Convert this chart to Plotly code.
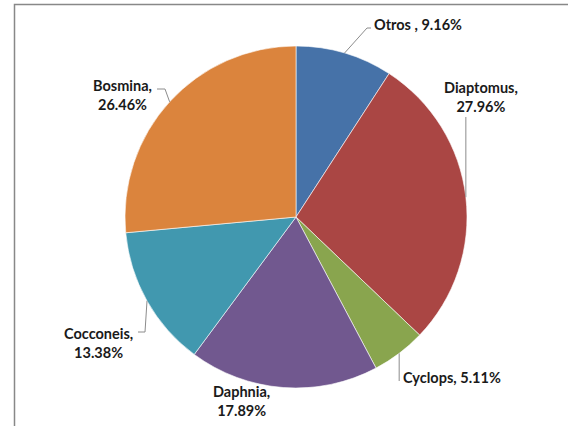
import math
import plotly.graph_objects as go

# Share of each taxon (percent), in clockwise order from 12 o'clock
taxa = ["Otros", "Diaptomus", "Cyclops", "Daphnia", "Cocconeis", "Bosmina"]
shares = [9.16, 27.96, 5.11, 17.89, 13.38, 26.46]
labels_text = ["Otros , 9.16%", "Diaptomus,<br>27.96%", "Cyclops, 5.11%",
               "Daphnia,<br>17.89%", "Cocconeis,<br>13.38%", "Bosmina,<br>26.46%"]
colors = ["#4672A8", "#AA4644", "#89A54E", "#71588F", "#4198AF", "#DB843D"]

W, H = 568, 426
CX, CY, R = 296, 217, 171  # pie centre and radius in pixels


def px(x):
    return x / W


def py(y):
    return 1 - y / H


fig = go.Figure(go.Pie(
    labels=taxa,
    values=shares,
    sort=False,
    direction="clockwise",
    rotation=0,
    marker=dict(colors=colors, line=dict(color="white", width=0.6)),
    textinfo="none",
    hoverinfo="label+percent",
    showlegend=False,
    domain=dict(x=[px(CX - R), px(CX + R)], y=[py(CY + R), py(CY - R)]),
))

# Label placement (anchor x, centre y, horizontal anchor) and leader-line route
label_pos = [(372, 25, "left"), (481, 97, "center"), (401, 377, "left"),
             (241, 401, "center"), (98, 343, "center"), (122, 95, "center")]
leader_end = [[(367, 28), (371, 28)],
              [(None, 117)],
              [(None, 381)],
              None,
              [(145, 332), (138, 332)],
              [(165, 89), (157, 89)]]

total = sum(shares)
cum = 0.0
shapes = []
annotations = []
for i, v in enumerate(shares):
    mid = 2 * math.pi * (cum + v / 2) / total
    cum += v
    ax = CX + R * math.sin(mid)
    ay = CY - R * math.cos(mid)
    route = leader_end[i]
    if route:
        pts = [(ax, ay)] + [((ax if x is None else x), y) for x, y in route]
        path = "M " + " L ".join(f"{px(x)},{py(y)}" for x, y in pts)
        shapes.append(dict(type="path", xref="paper", yref="paper", path=path,
                           line=dict(color="#8C8C8C", width=1)))
    lx, ly, anchor = label_pos[i]
    annotations.append(dict(
        x=px(lx), y=py(ly), xref="paper", yref="paper",
        text=f"<b>{labels_text[i]}</b>", showarrow=False,
        xanchor=anchor, yanchor="middle", align="center",
        font=dict(family="Lato, Noto Sans, sans-serif", size=14.5, color="#1A1A1A"),
    ))

# Chart-area frame (top and left edges visible)
shapes.append(dict(type="rect", xref="paper", yref="paper",
                   x0=px(14.5), y0=-0.05, x1=1.05, y1=py(4.5),
                   line=dict(color="#888888", width=1.5)))

fig.update_layout(
    width=W, height=H,
    margin=dict(l=0, r=0, t=0, b=0),
    paper_bgcolor="white",
    plot_bgcolor="white",
    shapes=shapes,
    annotations=annotations,
)

fig.write_html("out.html")
